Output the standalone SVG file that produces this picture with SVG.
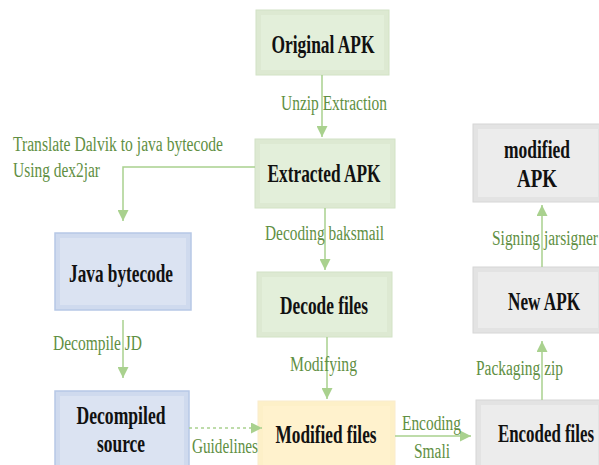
<svg xmlns="http://www.w3.org/2000/svg" width="599" height="465" viewBox="0 0 599 465" font-family="Liberation Serif">
<style>
.node text{font-weight:bold;font-size:26px;fill:#111;text-anchor:middle}
.lbl{font-size:20px;fill:#5f8f43}
.g .o{fill:#dde9d2;stroke:#d2e2c5;stroke-width:1}
.g .i{fill:#e3efda}
.b .o{fill:#cfdaee;stroke:#b7c8e6;stroke-width:1.5}
.b .i{fill:#dbe3f2}
.y .o{fill:#fdf0c8;stroke:#faeccc;stroke-width:1}
.y .i{fill:#fff2cd}
.s .o{fill:#e3e3e3;stroke:#d6d6d6;stroke-width:1}
.s .i{fill:#ececec}
.c line,.c polyline{stroke:#a9d18e;stroke-width:1.5;fill:none}
.c .d{stroke-dasharray:3 3}
</style>
<defs>
<marker id="ah2" viewBox="0 0 10 10" refX="10" refY="5" markerWidth="11" markerHeight="11" orient="auto" markerUnits="userSpaceOnUse">
<path d="M0,0 L10,5 L0,10 z" fill="#a9d18e"/>
</marker>
</defs>

<g id="original-apk" class="node g">
<rect class="o" x="256" y="10" width="133" height="65"/>
<rect class="i" x="261" y="15" width="123" height="55"/>
<text x="323" y="53" textLength="103" lengthAdjust="spacingAndGlyphs">Original APK</text>
</g>
<g id="extracted-apk" class="node g">
<rect class="o" x="255" y="139" width="140" height="69"/>
<rect class="i" x="260" y="144" width="130" height="59"/>
<text x="324" y="182" textLength="113" lengthAdjust="spacingAndGlyphs">Extracted APK</text>
</g>
<g id="decode-files" class="node g">
<rect class="o" x="257" y="272" width="135" height="65"/>
<rect class="i" x="262" y="277" width="125" height="55"/>
<text x="324" y="314" textLength="88" lengthAdjust="spacingAndGlyphs">Decode files</text>
</g>
<g id="modified-files" class="node y">
<rect class="o" x="258" y="401" width="137" height="70"/>
<rect class="i" x="263" y="406" width="127" height="60"/>
<text x="326" y="443" textLength="101" lengthAdjust="spacingAndGlyphs">Modified files</text>
</g>
<g id="java-bytecode" class="node b">
<rect class="o" x="55" y="233" width="136" height="77"/>
<rect class="i" x="60" y="238" width="126" height="67"/>
<text x="121" y="282" textLength="104" lengthAdjust="spacingAndGlyphs">Java bytecode</text>
</g>
<g id="decompiled-source" class="node b">
<rect class="o" x="55" y="391" width="134" height="80"/>
<rect class="i" x="60" y="396" width="124" height="70"/>
<text x="121" y="424" textLength="89" lengthAdjust="spacingAndGlyphs">Decompiled</text>
<text x="121" y="452" textLength="48" lengthAdjust="spacingAndGlyphs">source</text>
</g>
<g id="modified-apk" class="node s">
<rect class="o" x="473" y="124" width="130" height="78"/>
<rect class="i" x="478" y="129" width="120" height="68"/>
<text x="537" y="158" textLength="66" lengthAdjust="spacingAndGlyphs">modified</text>
<text x="537" y="187" textLength="40" lengthAdjust="spacingAndGlyphs">APK</text>
</g>
<g id="new-apk" class="node s">
<rect class="o" x="473" y="267" width="130" height="66"/>
<rect class="i" x="478" y="272" width="120" height="56"/>
<text x="544" y="310" textLength="72" lengthAdjust="spacingAndGlyphs">New APK</text>
</g>
<g id="encoded-files" class="node s">
<rect class="o" x="476" y="400" width="127" height="71"/>
<rect class="i" x="481" y="405" width="117" height="61"/>
<text x="546" y="442" textLength="96" lengthAdjust="spacingAndGlyphs">Encoded files</text>
</g>

<g id="connectors" class="c">
<line x1="322" y1="75" x2="322" y2="137" marker-end="url(#ah2)"/>
<line x1="325" y1="208" x2="325" y2="270" marker-end="url(#ah2)"/>
<line x1="327" y1="337" x2="327" y2="399" marker-end="url(#ah2)"/>
<polyline points="255,167 123,167 123,221" marker-end="url(#ah2)"/>
<line x1="123" y1="320" x2="123" y2="378" marker-end="url(#ah2)"/>
<line class="d" x1="189" y1="428" x2="262" y2="428" marker-end="url(#ah2)"/>
<line x1="395" y1="436" x2="471" y2="436" marker-end="url(#ah2)"/>
<line x1="542" y1="400" x2="542" y2="341" marker-end="url(#ah2)"/>
<line x1="542" y1="267" x2="542" y2="205" marker-end="url(#ah2)"/>
</g>

<g id="labels">
<text class="lbl" x="281" y="110" textLength="106" lengthAdjust="spacingAndGlyphs">Unzip Extraction</text>
<text class="lbl" x="13" y="151" textLength="210" lengthAdjust="spacingAndGlyphs">Translate Dalvik to java bytecode</text>
<text class="lbl" x="13" y="177" textLength="87" lengthAdjust="spacingAndGlyphs">Using dex2jar</text>
<text class="lbl" x="265" y="240" textLength="119" lengthAdjust="spacingAndGlyphs">Decoding baksmail</text>
<text class="lbl" x="53" y="350" textLength="89" lengthAdjust="spacingAndGlyphs">Decompile JD</text>
<text class="lbl" x="290" y="371" textLength="67" lengthAdjust="spacingAndGlyphs">Modifying</text>
<text class="lbl" x="192" y="453" textLength="66" lengthAdjust="spacingAndGlyphs">Guidelines</text>
<text class="lbl" x="402" y="430" textLength="59" lengthAdjust="spacingAndGlyphs">Encoding</text>
<text class="lbl" x="414" y="458" textLength="36" lengthAdjust="spacingAndGlyphs">Smali</text>
<text class="lbl" x="476" y="375" textLength="87" lengthAdjust="spacingAndGlyphs">Packaging zip</text>
<text class="lbl" x="492" y="245" textLength="106" lengthAdjust="spacingAndGlyphs">Signing jarsigner</text>
</g>
</svg>
